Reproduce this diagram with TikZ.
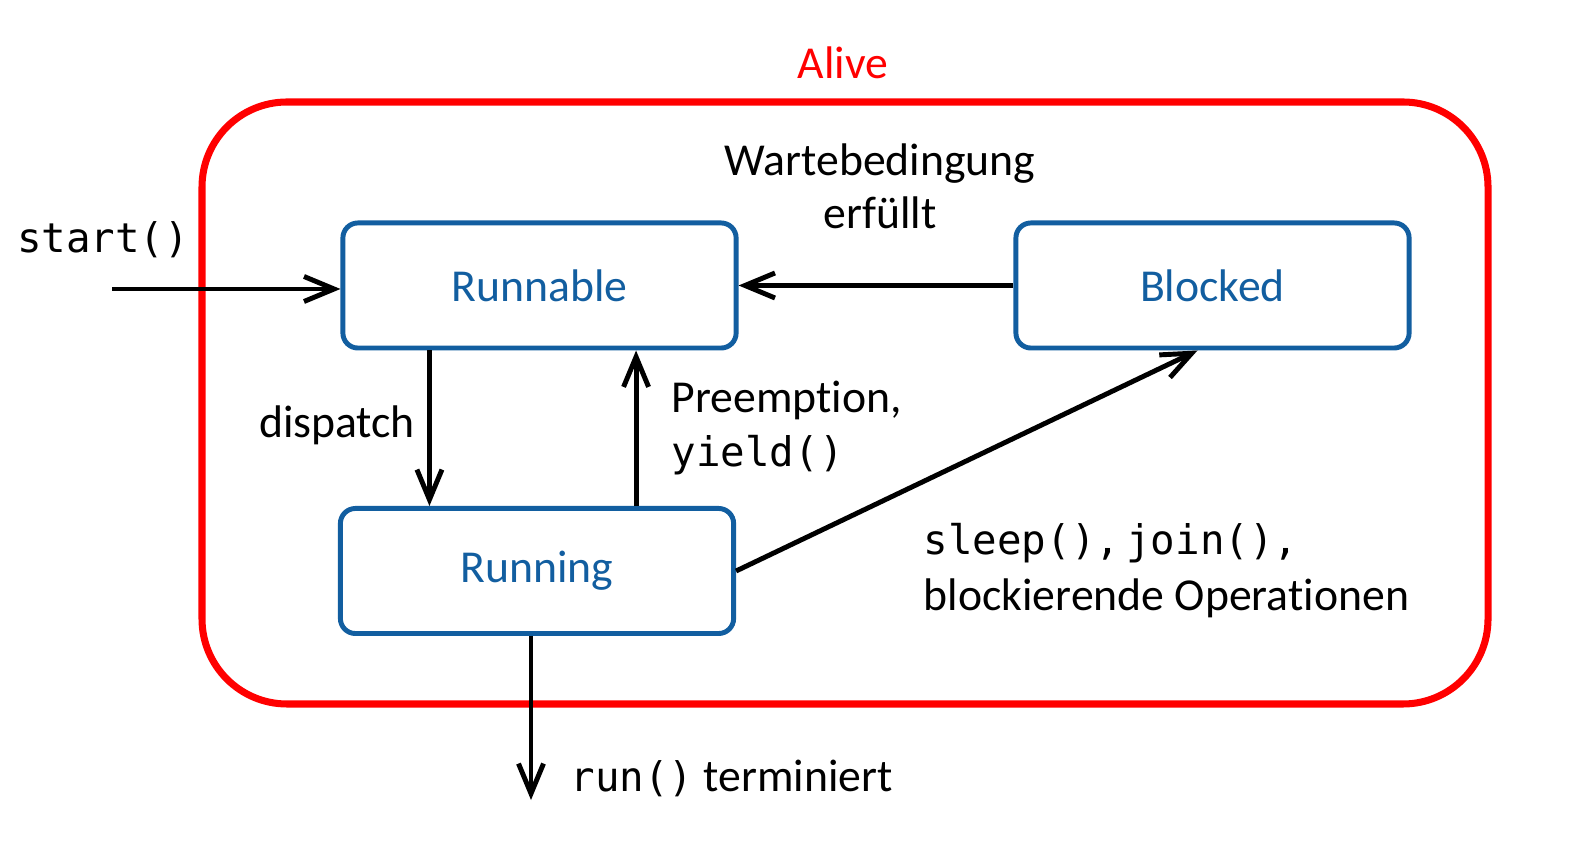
\documentclass[tikz,border=0pt]{standalone}
\usepackage{fontspec}
\setmainfont{Carlito}[Ligatures=NoCommon]
\setmonofont{DejaVu Sans Mono}
\usetikzlibrary{arrows.meta}
\definecolor{stateblue}{RGB}{18,94,160}
\definecolor{alivered}{RGB}{255,0,0}

\begin{document}
\begin{tikzpicture}[x=0.01cm,y=-0.01cm,
    state/.style={draw=stateblue, line width=1.4pt, rounded corners=0.15cm,
      minimum width=3.93cm, minimum height=1.25cm, text=stateblue,
      font=\fontsize{13}{15}\selectfont},
    lbl/.style={font=\fontsize{13}{15}\selectfont, inner sep=0pt},
    code/.style={font=\fontsize{11.6}{15}\ttfamily, inner sep=0pt},
    arr/.style={line width=1.4pt, -{Straight Barb[length=3mm,width=2.5mm,line width=1.4pt]}}]
        \useasboundingbox (0,0) rectangle (1589,865);
        % Alive region
        \draw[alivered, line width=2pt, rounded corners=0.85cm] (202,102) rectangle (1488,704);
        \node[lbl, text=alivered] (alive) at (843,63) {Alive};
        % states
        \node[state] (runnable) at (539.5,285.5) {Runnable};
        \node[state] (blocked) at (1212.5,285.5) {Blocked};
        \node[state] (running) at (537,571) {Running};
        % start
        \coordinate (init) at (112,289);
        \node[code] (startlbl) at (103,240) {start()};
        \draw[arr] (init) -- (init -| runnable.west);
        % Blocked -> Runnable
        \draw[arr] (blocked.west) -- (runnable.east);
        \node[lbl, align=center] (wait) at (880,186) {Wartebedingung\\erfüllt};
        % dispatch
        \draw[arr] ([xshift=-1.1cm]runnable.south) -- ([xshift=-1.1cm]runnable.south |- running.north);
        \node[lbl] (disp) at (337,425) {dispatch};
        % preemption
        \draw[arr] ([xshift=0.99cm]running.north) -- ([xshift=0.99cm]running.north |- runnable.south);
        \node[lbl, anchor=west] (pre) at (671,400) {Preemption,};
        \node[code, anchor=west] (yld) at (671,455) {yield()};
        % Running -> Blocked
        \draw[arr] (running.east) -- ([xshift=-0.15cm]blocked.south);
        \node[code, anchor=west] (slp) at (923,543) {sleep(),\hspace{-0.45em} join(),};
        \node[lbl, anchor=west] (blk) at (923,598) {blockierende Operationen};
        % terminate
        \coordinate (stop) at (531,800);
        \draw[arr] (running.south -| stop) -- (stop);
        \node[lbl, anchor=west] (term) at (570,778) {{\fontsize{11.6}{15}\ttfamily run()} terminiert};
\end{tikzpicture}
\end{document}
